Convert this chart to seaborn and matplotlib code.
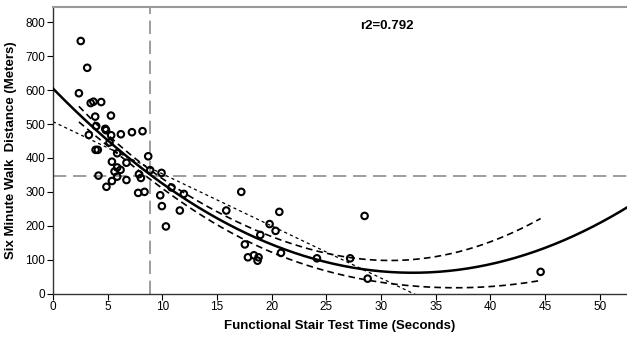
import numpy as np
import pandas as pd
import matplotlib
matplotlib.use("Agg")
import matplotlib.pyplot as plt
import seaborn as sns

# ---- data ----
stair_time = [2.54, 3.13, 2.37, 3.45, 3.70, 4.41, 3.86, 5.30, 3.95, 4.78,
              4.85, 5.32, 3.28, 6.21, 7.22, 8.19, 5.17, 3.90, 4.10, 5.87,
              8.71, 5.39, 6.72, 5.87, 6.18, 5.63, 4.16, 8.89, 9.93, 7.86,
              8.04, 5.87, 5.39, 6.72, 4.89, 7.79, 8.37, 10.84, 9.81, 11.97,
              9.96, 11.60, 10.33, 15.85, 17.22, 17.55, 17.83, 18.38, 18.80, 18.71,
              20.70, 19.81, 20.36, 18.96, 20.85, 24.14, 27.18, 28.50, 28.78, 44.60]
walk_dist = [745, 666, 591, 562, 566, 565, 522, 525, 494, 486,
             482, 467, 468, 470, 476, 479, 446, 424, 424, 414,
             405, 389, 386, 372, 365, 360, 348, 364, 356, 352,
             341, 345, 332, 335, 315, 297, 300, 313, 290, 294,
             258, 245, 198, 245, 300, 145, 107, 113, 107, 97,
             241, 205, 185, 173, 120, 104, 104, 229, 44, 64]
cutoff_time = 8.9
cutoff_dist = 347
r2_label = "r2=0.792"
x_ticks = list(range(0, 55, 5))
y_ticks = list(range(0, 900, 100))

df = pd.DataFrame({"x": stair_time, "y": walk_dist})
x = df["x"].to_numpy(float)
y = df["y"].to_numpy(float)

# quadratic fit with confidence band of the mean
X = np.column_stack([np.ones_like(x), x, x ** 2])
beta, *_ = np.linalg.lstsq(X, y, rcond=None)
resid = y - X @ beta
dof = len(x) - 3
s2 = resid @ resid / dof
XtX_inv = np.linalg.inv(X.T @ X)
band_mult = 1.3

grid_full = np.linspace(0, 52.5, 300)
grid_data = np.linspace(x.min(), x.max(), 300)
G = np.column_stack([np.ones_like(grid_data), grid_data, grid_data ** 2])
se = np.sqrt(np.einsum("ij,jk,ik->i", G, XtX_inv, G) * s2)
fit_data = G @ beta
fit_full = np.column_stack([np.ones_like(grid_full), grid_full, grid_full ** 2]) @ beta

# linear fit
lin = np.polyfit(x, y, 1)
lin_y = np.polyval(lin, grid_full)

fig = plt.figure(figsize=(6.27, 3.39), dpi=100)
ax = fig.add_axes([0.0845, 0.134, 0.9155, 0.845])
plt.rcParams["font.family"] = ["Liberation Sans", "DejaVu Sans"]

ax.axvline(cutoff_time, color="#8c8c8c", lw=1.2, dashes=(8, 4), zorder=1)
ax.axhline(cutoff_dist, color="#8c8c8c", lw=1.2, dashes=(8, 4), zorder=1)

sns.lineplot(x=grid_full, y=lin_y, ax=ax, color="black", lw=0.9,
             zorder=2).lines[-1].set_dashes((2.5, 2.5))
l_up = sns.lineplot(x=grid_data, y=fit_data + band_mult * se, ax=ax, color="black", lw=1.2, zorder=2).lines[-1]
l_up.set_dashes((4, 2.5))
l_lo = sns.lineplot(x=grid_data, y=fit_data - band_mult * se, ax=ax, color="black", lw=1.2, zorder=2).lines[-1]
l_lo.set_dashes((4, 2.5))
sns.lineplot(x=grid_full, y=fit_full, ax=ax, color="black", lw=1.8, zorder=3)

sns.scatterplot(data=df, x="x", y="y", ax=ax, s=22, facecolor="none",
                edgecolor="black", linewidth=1.5, zorder=4)

ax.set_xlim(0, 52.5)
ax.set_ylim(0, 845)
ax.set_xticks(x_ticks)
ax.set_yticks(y_ticks)
ax.tick_params(direction="out", length=4, width=0.8, labelsize=8.5,
               pad=1.5, colors="black")
for lab in ax.get_xticklabels() + ax.get_yticklabels():
    lab.set_family(["Liberation Sans", "DejaVu Sans"])
ax.spines["right"].set_visible(False)
ax.spines["top"].set_color("#999999")
ax.spines["top"].set_linewidth(1.5)
for s in ("left", "bottom"):
    ax.spines[s].set_color("#333333")
    ax.spines[s].set_linewidth(1.0)

ax.set_xlabel("Functional Stair Test Time (Seconds)", fontsize=9.5,
              fontweight="bold", family=["Liberation Sans", "DejaVu Sans"], labelpad=5)
ax.set_ylabel("Six Minute Walk  Distance (Meters)", fontsize=9.5,
              fontweight="bold", family=["Liberation Sans", "DejaVu Sans"], labelpad=6)
ax.text(0.535, 0.935, r2_label, transform=ax.transAxes, fontsize=9.5,
        fontweight="bold", family=["Liberation Sans", "DejaVu Sans"], ha="left", va="center")

fig.savefig("out.png", dpi=100)
